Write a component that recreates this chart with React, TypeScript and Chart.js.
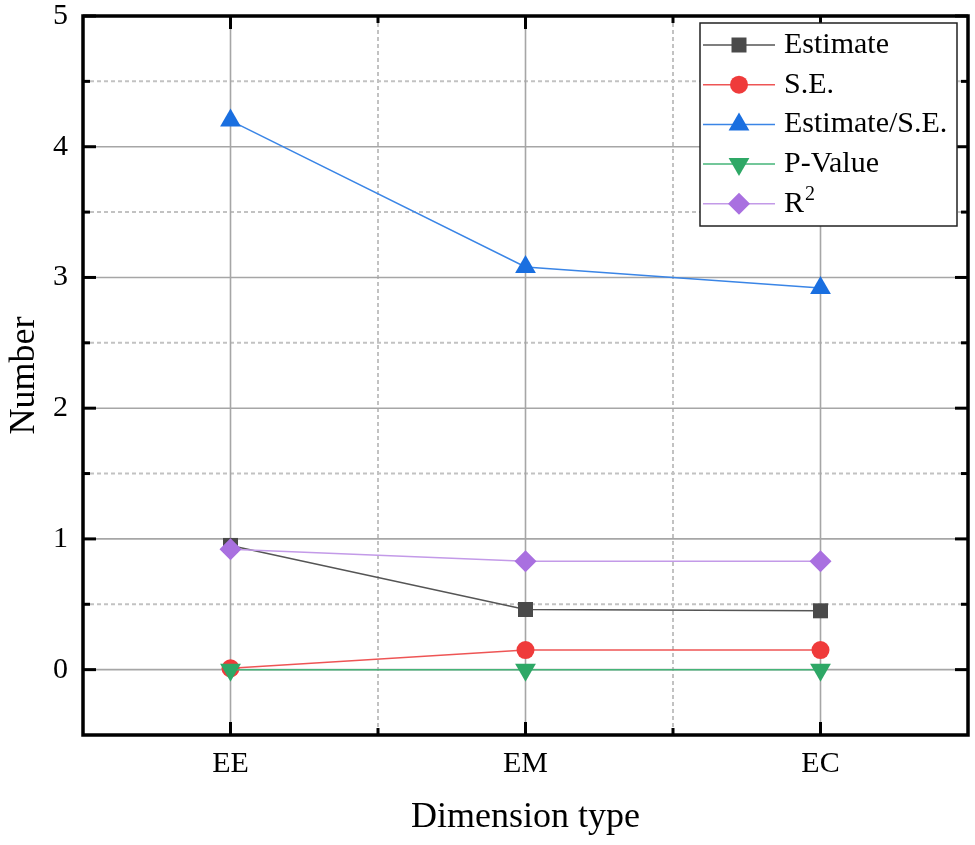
import { useEffect, useRef } from 'react'
import { Chart, registerables } from 'chart.js'
import { drawPoint } from 'chart.js/helpers'

Chart.register(...registerables)

const categories = ['EE', 'EM', 'EC']
const estimate = [0.95, 0.46, 0.45]
const stdErr = [0.01, 0.15, 0.15]
const estOverSe = [4.2, 3.08, 2.92]
const pValue = [0, 0, 0]
const rSquared = [0.92, 0.83, 0.83]
const seriesNames = ['Estimate', 'S.E.', 'Estimate/S.E.', 'P-Value', 'R²']
const yTickValues = [0, 1, 2, 3, 4, 5]
const yMinorTicks = [0.5, 1.5, 2.5, 3.5, 4.5]
const xMinorTicks = [0.5, 1.5]

const FONT = "'Liberation Serif', 'Times New Roman', serif"

const styles = [
  { color: '#4a4a4a', line: '#555555', pointStyle: 'rect', radius: 10.6, rotation: 0 },
  { color: '#ef3b3b', line: '#ee5555', pointStyle: 'circle', radius: 9, rotation: 0 },
  { color: '#1a6fe0', line: '#3a85e6', pointStyle: 'triangle', radius: 12, rotation: 0 },
  { color: '#2ea866', line: '#45b478', pointStyle: 'triangle', radius: 12, rotation: 180 },
  { color: '#a970e0', line: '#c39ae8', pointStyle: 'rectRot', radius: 11, rotation: 0 },
]

const seriesValues = [estimate, stdErr, estOverSe, pValue, rSquared]

// gridlines under the data
const gridPlugin = {
  id: 'originGrid',
  beforeDatasetsDraw(chart: any) {
    const { ctx, chartArea: a, scales } = chart
    const x = scales.x
    const y = scales.y
    ctx.save()
    ctx.strokeStyle = '#c2c2c2'
    ctx.lineWidth = 2
    ctx.setLineDash([4, 3])
    yMinorTicks.forEach(v => {
      const py = y.getPixelForValue(v)
      ctx.beginPath(); ctx.moveTo(a.left, py); ctx.lineTo(a.right, py); ctx.stroke()
    })
    xMinorTicks.forEach(v => {
      const px = x.getPixelForValue(v)
      ctx.beginPath(); ctx.moveTo(px, a.top); ctx.lineTo(px, a.bottom); ctx.stroke()
    })
    ctx.setLineDash([])
    ctx.strokeStyle = '#a6a6a6'
    ctx.lineWidth = 1.6
    yTickValues.forEach(v => {
      const py = y.getPixelForValue(v)
      ctx.beginPath(); ctx.moveTo(a.left, py); ctx.lineTo(a.right, py); ctx.stroke()
    })
    categories.forEach((_, i) => {
      const px = x.getPixelForValue(i)
      ctx.beginPath(); ctx.moveTo(px, a.top); ctx.lineTo(px, a.bottom); ctx.stroke()
    })
    ctx.restore()
  },
}

// black frame with inward ticks, then the boxed legend
const framePlugin = {
  id: 'originFrame',
  afterDraw(chart: any) {
    const { ctx, chartArea: a, scales } = chart
    const x = scales.x
    const y = scales.y
    const major = 13
    const minor = 7
    ctx.save()
    ctx.strokeStyle = '#000'
    ctx.lineWidth = 3
    const tick = (x1: number, y1: number, x2: number, y2: number) => {
      ctx.beginPath(); ctx.moveTo(x1, y1); ctx.lineTo(x2, y2); ctx.stroke()
    }
    yTickValues.forEach(v => {
      const py = y.getPixelForValue(v)
      tick(a.left, py, a.left + major, py)
      tick(a.right, py, a.right - major, py)
    })
    yMinorTicks.forEach(v => {
      const py = y.getPixelForValue(v)
      tick(a.left, py, a.left + minor, py)
      tick(a.right, py, a.right - minor, py)
    })
    categories.forEach((_, i) => {
      const px = x.getPixelForValue(i)
      tick(px, a.bottom, px, a.bottom - major)
      tick(px, a.top, px, a.top + major)
    })
    xMinorTicks.forEach(v => {
      const px = x.getPixelForValue(v)
      tick(px, a.bottom, px, a.bottom - minor)
      tick(px, a.top, px, a.top + minor)
    })
    ctx.lineWidth = 3.5
    ctx.strokeRect(a.left, a.top, a.right - a.left, a.bottom - a.top)

    // legend
    const bw = 257
    const bh = 203
    const bx = a.right - 11 - bw
    const by = a.top + 7
    ctx.fillStyle = '#fff'
    ctx.fillRect(bx, by, bw, bh)
    ctx.strokeStyle = '#222'
    ctx.lineWidth = 1.5
    ctx.strokeRect(bx, by, bw, bh)
    const step = 39.7
    chart.data.datasets.forEach((ds: any, i: number) => {
      const s = styles[i]
      const cy = by + 22 + i * step
      ctx.strokeStyle = s.line
      ctx.lineWidth = 1.5
      ctx.beginPath(); ctx.moveTo(bx + 3, cy); ctx.lineTo(bx + 75, cy); ctx.stroke()
      ctx.fillStyle = s.color
      drawPoint(ctx, { pointStyle: s.pointStyle as any, rotation: s.rotation, radius: s.radius, borderWidth: 0 }, bx + 39, cy)
      ctx.fillStyle = '#000'
      ctx.textBaseline = 'middle'
      ctx.textAlign = 'left'
      ctx.font = `30px ${FONT}`
      const label: string = ds.label
      if (label.endsWith('²')) {
        const base = label.slice(0, -1)
        ctx.fillText(base, bx + 84, cy)
        const w = ctx.measureText(base).width
        ctx.font = `20px ${FONT}`
        ctx.fillText('2', bx + 84 + w + 1, cy - 9)
      } else {
        ctx.fillText(label, bx + 84, cy)
      }
    })
    ctx.restore()
  },
}

export default function App() {
  const canvasRef = useRef<HTMLCanvasElement>(null)
  const chartRef = useRef<any>(null)

  useEffect(() => {
    if (!canvasRef.current) return
    document.body.style.margin = '0'
    document.body.style.overflow = 'hidden'

    if (chartRef.current) chartRef.current.destroy()

    chartRef.current = new Chart(canvasRef.current, {
      type: 'line',
      data: {
        datasets: seriesValues.map((vals, i) => ({
          label: seriesNames[i],
          data: vals.map((v, j) => ({ x: j, y: v })),
          borderColor: styles[i].line,
          borderWidth: 1.5,
          backgroundColor: styles[i].color,
          pointStyle: styles[i].pointStyle as any,
          pointRotation: styles[i].rotation,
          pointRadius: styles[i].radius,
          pointBackgroundColor: styles[i].color,
          pointBorderWidth: 0,
          tension: 0,
          clip: false as any,
          order: seriesValues.length - i,
        })),
      },
      options: {
        animation: false,
        responsive: true,
        maintainAspectRatio: false,
        layout: { autoPadding: false, padding: { top: 16, right: 7, left: 0, bottom: 0 } },
        plugins: {
          legend: { display: false },
          tooltip: { enabled: false },
        },
        scales: {
          x: {
            type: 'linear',
            min: -0.5,
            max: 2.5,
            afterBuildTicks: (scale: any) => { scale.ticks = categories.map((_, i) => ({ value: i })) },
            afterFit: (scale: any) => {
              scale.height = 110
              scale.paddingLeft = 0
              scale.paddingRight = 0
            },
            ticks: {
              color: '#000',
              font: { family: FONT, size: 30 },
              padding: 11,
              maxRotation: 0,
              callback: (v: string | number) => categories[Number(v)] ?? '',
            },
            grid: { display: false, drawTicks: false },
            border: { display: false },
            title: {
              display: true,
              text: 'Dimension type',
              color: '#000',
              font: { family: FONT, size: 36 },
              padding: { top: 0, bottom: 6 },
            },
          },
          y: {
            type: 'linear',
            min: -0.5,
            max: 5,
            afterBuildTicks: (scale: any) => { scale.ticks = yTickValues.map(v => ({ value: v })) },
            afterFit: (scale: any) => {
              scale.width = 83
              scale.paddingTop = 0
              scale.paddingBottom = 0
            },
            ticks: {
              color: '#000',
              font: { family: FONT, size: 30 },
              padding: 15,
              callback: (v: string | number) => String(v),
            },
            grid: { display: false, drawTicks: false },
            border: { display: false },
            title: {
              display: true,
              text: 'Number',
              color: '#000',
              font: { family: FONT, size: 36 },
              padding: { top: 3, bottom: 0 },
            },
          },
        },
      },
      plugins: [gridPlugin, framePlugin],
    })

    return () => { if (chartRef.current) chartRef.current.destroy() }
  }, [])

  return (
    <div style={{ width: 975, height: 845, position: 'relative' }}>
      <canvas ref={canvasRef} />
    </div>
  )
}
